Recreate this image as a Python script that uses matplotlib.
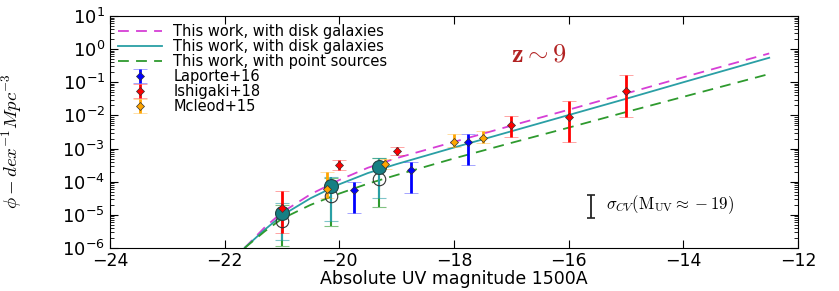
import matplotlib
matplotlib.use('Agg')
import matplotlib.pyplot as plt
from matplotlib.ticker import LogLocator
import numpy as np

# model curves, log10 phi
M_model = [-21.65, -21.3, -21.0, -20.5, -20.0, -19.5, -19.0, -18.0, -17.0, -16.0, -15.0, -14.0, -12.5]
disk_dash = [-6.0, -5.38, -4.93, -4.38, -3.95, -3.58, -3.29, -2.80, -2.31, -1.83, -1.34, -0.85, -0.13]
disk_solid = [-6.0, -5.45, -5.02, -4.50, -4.08, -3.74, -3.47, -2.97, -2.48, -1.99, -1.50, -1.00, -0.26]
point_src = [-6.0, -5.50, -5.12, -4.70, -4.36, -4.06, -3.80, -3.30, -2.83, -2.37, -1.90, -1.44, -0.75]

# Laporte+16
lap_M = [-19.75, -18.75, -17.75]
lap_phi = [-4.26, -3.66, -2.79]
lap_up = [-4.02, -3.41, -2.55]
lap_lo = [-4.95, -4.35, -3.50]

# Ishigaki+18
ish_M = [-21.0, -20.0, -19.0, -17.0, -16.0, -15.0]
ish_phi = [-4.78, -3.50, -3.08, -2.29, -2.04, -1.27]
ish_up = [-4.28, -3.35, -2.96, -2.02, -1.56, -0.79]
ish_lo = [-5.55, -3.65, -3.20, -2.64, -2.81, -2.06]

# Mcleod+15
mcl_M = [-20.22, -19.2, -18.0, -17.5]
mcl_phi = [-4.23, -3.46, -2.81, -2.69]
mcl_up = [-3.71, -3.32, -2.57, -2.46]
mcl_lo = [-4.50, -3.62, -2.96, -2.84]

# this work, binned points
tw_M = [-21.0, -20.15, -19.3]
tw_disk = [-4.95, -4.14, -3.56]
tw_disk_up = [-4.65, -3.86, -3.28]
tw_disk_lo = [-5.76, -5.20, -4.48]
tw_pt = [-5.18, -4.43, -3.92]
tw_pt_up = [-4.70, -3.90, -3.30]
tw_pt_lo = [-5.93, -5.33, -4.75]


def p(a):
    return 10 ** np.array(a)


def errs(c, up, lo):
    c = p(c)
    return [c - p(lo), p(up) - c]


fig = plt.figure(figsize=(8.39, 2.91), dpi=100)
ax = fig.add_axes([0.131, 0.148, 0.820, 0.797])

ax.plot(M_model, p(disk_dash), '--', color='#d63fd6', lw=1.3, dashes=(6, 4),
        label='This work, with disk galaxies')
ax.plot(M_model, p(disk_solid), '-', color='#2a9fa5', lw=1.3,
        label='This work, with disk galaxies')
ax.plot(M_model, p(point_src), '--', color='#2e9a2e', lw=1.3, dashes=(6, 4),
        label='This work, with point sources')


def eb(x, y, up, lo, color, **kw):
    e = ax.errorbar(x, p(y), yerr=errs(y, up, lo), fmt='D', color=color,
                    ecolor=color, elinewidth=2, capsize=5, capthick=1.5,
                    markersize=4.5, markeredgecolor='#333333', markeredgewidth=0.5, **kw)
    for c in e[1]:
        c.set_alpha(0.5)
    return e


# this work points (no legend)
e = ax.errorbar(tw_M, p(tw_pt), yerr=errs(tw_pt, tw_pt_up, tw_pt_lo), fmt='o',
                mfc='none', mec='#333333', ms=9, mew=0.8, ecolor='#2e9a2e',
                elinewidth=1.5, capsize=5, capthick=1.5)
for c in e[1]:
    c.set_alpha(0.6)
e = ax.errorbar(tw_M, p(tw_disk), yerr=errs(tw_disk, tw_disk_up, tw_disk_lo), fmt='o',
                color='#167f84', mec='#224444', ms=10, mew=0.8, ecolor='#2a9fa5',
                elinewidth=1.5, capsize=5, capthick=1.5)
for c in e[1]:
    c.set_alpha(0.6)

eb(lap_M, lap_phi, lap_up, lap_lo, 'blue', label='Laporte+16')
eb(ish_M, ish_phi, ish_up, ish_lo, 'red', label='Ishigaki+18')
eb(mcl_M, mcl_phi, mcl_up, mcl_lo, 'orange', label='Mcleod+15')

# cosmic variance bar
ax.errorbar([-15.6], [10 ** -4.75], yerr=[[10 ** -4.75 - 10 ** -5.1], [10 ** -4.4 - 10 ** -4.75]],
            fmt='none', ecolor='#222222', elinewidth=1.3, capsize=3, capthick=1.2)
ax.text(-15.35, 10 ** -4.68, r'$\sigma_{CV}(\mathrm{M_{UV}} \approx -19)$', fontsize=12,
        math_fontfamily='cm', va='center', ha='left')

ax.text(-17.0, 10 ** -0.15, r'$\mathbf{z \sim 9}$', fontsize=19, color='#b22222',
        math_fontfamily='cm', va='center', ha='left')

ax.set_yscale('log')
ax.set_xlim(-24, -12)
ax.set_ylim(1e-6, 1e1)
ax.yaxis.set_major_locator(LogLocator(base=10, numticks=20))
ax.yaxis.set_minor_locator(LogLocator(base=10, subs=np.arange(2, 10), numticks=20))
ax.set_xticks([-24, -22, -20, -18, -16, -14, -12])
ax.tick_params(which='both', direction='in', top=True, right=True)
ax.tick_params(which='major', length=6, labelsize=13)
ax.tick_params(which='minor', length=3)
ax.tick_params(axis='x', pad=3, labelsize=12.5)
ax.set_xlabel('Absolute UV magnitude 1500A', fontsize=12.5, labelpad=0)
ax.set_ylabel(r'$\phi - dex^{-1}Mpc^{-3}$', fontsize=13.5, math_fontfamily='cm')
ax.yaxis.set_label_coords(-0.125, 0.46)

ax.legend(loc='upper left', frameon=False, fontsize=10.5, labelspacing=0.0,
          handlelength=3, borderaxespad=0.15, numpoints=1)

plt.savefig('out.png', dpi=100)
